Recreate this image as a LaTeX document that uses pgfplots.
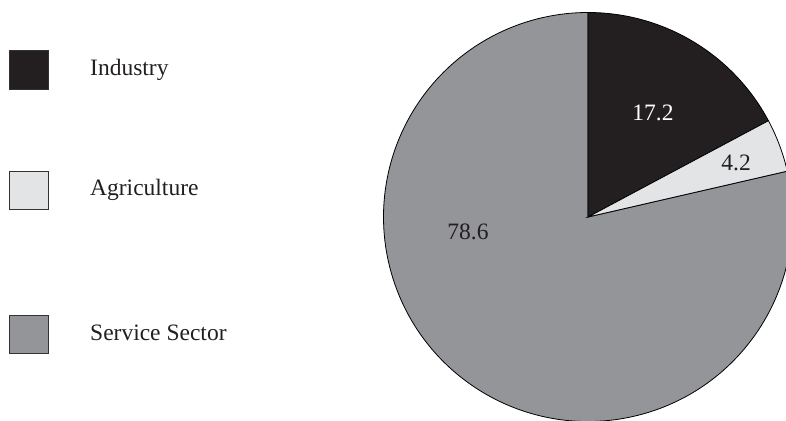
\documentclass[border=0pt]{standalone}
\usepackage{pgfplots}
\pgfplotsset{compat=1.18}
\usepackage{pgfplotstable}
\usepackage{fontspec}
\setmainfont{Liberation Serif}
\definecolor{cInd}{HTML}{231F20}
\definecolor{cAgr}{HTML}{E3E4E5}
\definecolor{cSer}{HTML}{939598}
\pgfplotstableread{
label value
Industry 17.2
Agriculture 4.2
Service 78.6
}\piedata
\begin{document}
\begin{tikzpicture}[x=1pt,y=1pt]
\useasboundingbox (0,0) rectangle (786,420);
\clip (0,0) rectangle (786,420);
\pgfplotstablegetelem{0}{value}\of\piedata \let\vA\pgfplotsretval
\pgfplotstablegetelem{1}{value}\of\piedata \let\vB\pgfplotsretval
\pgfplotstablegetelem{2}{value}\of\piedata \let\vC\pgfplotsretval
\pgfmathsetmacro{\aA}{90-3.6*\vA}
\pgfmathsetmacro{\aB}{\aA-3.6*\vB}
\pgfmathsetmacro{\aC}{\aB-3.6*\vC}
\def\R{204.5pt}
\begin{axis}[
  hide axis, scale only axis, width=409pt, height=409pt,
  xmin=-1, xmax=1, ymin=-1, ymax=1, clip=false,
  at={(588pt,203pt)}, anchor=center]
\filldraw[fill=cSer, draw=black, line width=0.8pt] (axis cs:0,0) -- (axis cs:{cos(\aB)},{sin(\aB)}) arc[start angle=\aB, end angle=\aC, radius=\R] -- cycle;
\filldraw[fill=cInd, draw=black, line width=0.8pt] (axis cs:0,0) -- (axis cs:0,1) arc[start angle=90, end angle=\aA, radius=\R] -- cycle;
\filldraw[fill=cAgr, draw=black, line width=0.8pt] (axis cs:0,0) -- (axis cs:{cos(\aA)},{sin(\aA)}) arc[start angle=\aA, end angle=\aB, radius=\R] -- cycle;
\node[text=white, font=\fontsize{23.5}{26}\selectfont, anchor=center] at (axis cs:0.318,0.509) {17.2};
\node[text=cInd, font=\fontsize{23.5}{26}\selectfont, anchor=center] at (axis cs:0.724,0.264) {4.2};
\node[text=cInd, font=\fontsize{23.5}{26}\selectfont, anchor=center] at (axis cs:-0.587,-0.073) {78.6};
\end{axis}
% legend
\filldraw[fill=cInd, draw=black!80, line width=0.8pt] (9,331) rectangle (48,370);
\filldraw[fill=cAgr, draw=black!80, line width=0.8pt] (9,211) rectangle (48,249);
\filldraw[fill=cSer, draw=black!80, line width=0.8pt] (9,67) rectangle (48,105);
\node[anchor=base west, inner sep=0pt, text=cInd, font=\fontsize{23.5}{26}\selectfont] at (90,344) {Industry};
\node[anchor=base west, inner sep=0pt, text=cInd, font=\fontsize{23.5}{26}\selectfont] at (90,224) {Agriculture};
\node[anchor=base west, inner sep=0pt, text=cInd, font=\fontsize{23.5}{26}\selectfont] at (90,79) {Service Sector};
\end{tikzpicture}
\end{document}
